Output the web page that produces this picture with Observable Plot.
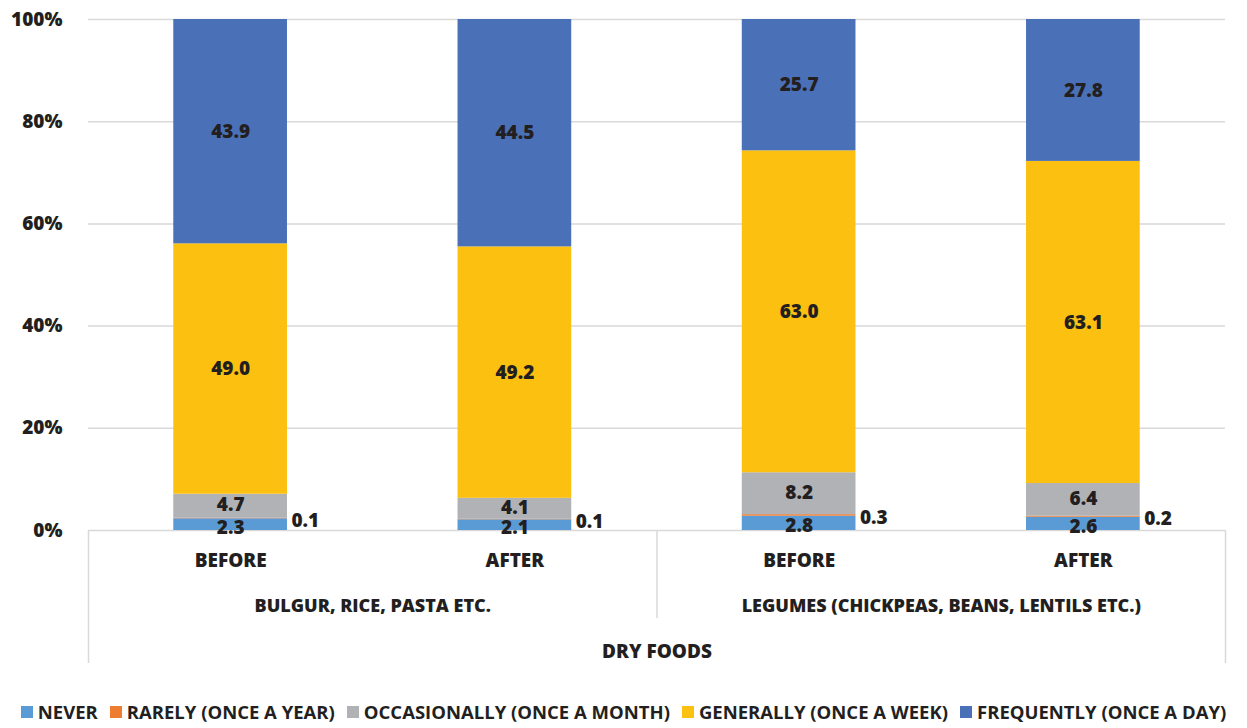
<!DOCTYPE html>
<html>
<head>
<meta charset="utf-8">
<script src="https://cdn.jsdelivr.net/npm/d3@7"></script>
<script src="https://cdn.jsdelivr.net/npm/@observablehq/plot@0.6"></script>
<style>
  body { margin: 0; background: #fff; }
  #chart svg { display: block; }
  #legend {
    display: flex; justify-content: center; align-items: center;
    height: 33px; width: 1247px;
    font-family: "Liberation Sans Narrow", "Open Sans", sans-serif;
    font-weight: 700; font-size: 18.5px; color: #231f20; white-space: nowrap;
  }
  #legend .item { display: flex; align-items: center; margin: 0 6px; }
  #legend .sw { width: 12px; height: 12px; margin-right: 5px; }
</style>
</head>
<body>
<div id="chart"></div>
<div id="legend"></div>
<script>
// Frequency of consumption of dry foods, before vs after
const timing = ["BEFORE", "AFTER", "BEFORE", "AFTER"];
const barGroup = [0, 0, 1, 1];
const foodGroups = ["BULGUR, RICE, PASTA ETC.", "LEGUMES (CHICKPEAS, BEANS, LENTILS ETC.)"];
const superGroup = "DRY FOODS";
const levels = [
  "NEVER",
  "RARELY (ONCE A YEAR)",
  "OCCASIONALLY (ONCE A MONTH)",
  "GENERALLY (ONCE A WEEK)",
  "FREQUENTLY (ONCE A DAY)"
];
const levelColors = ["#5b9bd5", "#ee7d31", "#b1b2b6", "#fcc010", "#4a71b7"];
const never = [2.3, 2.1, 2.8, 2.6];
const rarely = [0.1, 0.1, 0.3, 0.2];
const occasionally = [4.7, 4.1, 8.2, 6.4];
const generally = [49.0, 49.2, 63.0, 63.1];
const frequently = [43.9, 44.5, 25.7, 27.8];
const yTicks = [0, 20, 40, 60, 80, 100];

const series = [never, rarely, occasionally, generally, frequently];

// 100% stacked segments
const rows = [];
timing.forEach((t, i) => {
  const total = d3.sum(series, s => s[i]);
  let acc = 0;
  series.forEach((s, k) => {
    const v = s[i];
    const y1 = acc / total * 100;
    acc += v;
    const y2 = acc / total * 100;
    rows.push({i, level: levels[k], value: v, y1, y2, mid: (y1 + y2) / 2});
  });
});

const half = 0.2;
const bars = timing.map((t, i) => ({i, t}));
const groups = foodGroups.map((name, g) => {
  const idx = bars.filter(b => barGroup[b.i] === g).map(b => b.i);
  return {name, center: d3.mean(idx), lo: d3.min(idx) - 0.5, hi: d3.max(idx) + 0.5};
});
const outerEdges = [d3.min(groups, g => g.lo), d3.max(groups, g => g.hi)];
const innerEdges = groups.slice(1).map(g => g.lo);

const ink = "#231f20";
const font = "Open Sans";
const labelStyle = {fill: ink, fontSize: 19, fontWeight: 800};
// small offsets keep the thin bottom segments' labels apart
const labelShift = {[levels[0]]: 3, [levels[2]]: -1};

const chart = Plot.plot({
  width: 1247,
  height: 695,
  marginLeft: 88,
  marginRight: 22,
  marginTop: 19,
  marginBottom: 165,
  style: {fontFamily: font, fontWeight: 800, fontSize: "19px", color: ink, background: "#fff", overflow: "visible"},
  x: {domain: [-0.5, timing.length - 0.5], axis: null},
  y: {domain: [0, 100], ticks: yTicks, tickFormat: d => d + "%", tickSize: 0, tickPadding: 26, label: null},
  color: {domain: levels, range: levelColors},
  marks: [
    Plot.ruleY(yTicks, {stroke: "#d9d9d9", strokeWidth: 1.5}),
    Plot.rect(rows, {x1: d => d.i - half, x2: d => d.i + half, y1: "y1", y2: "y2", fill: "level"}),
    ...levels.filter(l => l !== levels[1]).map(l =>
      Plot.text(rows.filter(d => d.level === l), {
        x: "i", y: "mid", text: d => d.value.toFixed(1), ...labelStyle, dy: labelShift[l] || 0
      })
    ),
    Plot.text(rows.filter(d => d.level === levels[1]), {
      x: d => d.i + half, y: "mid", text: d => d.value.toFixed(1), ...labelStyle,
      textAnchor: "start", dx: 4, dy: 2
    }),
    // category axis: timing, food group, super group
    Plot.text(bars, {x: "i", text: "t", frameAnchor: "bottom", lineAnchor: "middle", dy: 30, ...labelStyle}),
    Plot.text(groups, {x: "center", text: "name", frameAnchor: "bottom", lineAnchor: "middle", dy: 76, ...labelStyle, fontSize: 18}),
    Plot.text([superGroup], {x: d3.mean(bars, b => b.i), text: d => d, frameAnchor: "bottom", lineAnchor: "middle", dy: 121, ...labelStyle}),
    Plot.ruleX(outerEdges, {x: d => d, y1: 0, y2: 0, insetBottom: -133, stroke: "#d9d9d9", strokeWidth: 1.5}),
    Plot.ruleX(innerEdges, {x: d => d, y1: 0, y2: 0, insetBottom: -88, stroke: "#d9d9d9", strokeWidth: 1.5})
  ]
});
document.getElementById("chart").append(chart);

const legend = d3.select("#legend");
levels.forEach((name, k) => {
  const item = legend.append("div").attr("class", "item");
  item.append("div").attr("class", "sw").style("background", levelColors[k]);
  item.append("span").text(name);
});
</script>
</body>
</html>
